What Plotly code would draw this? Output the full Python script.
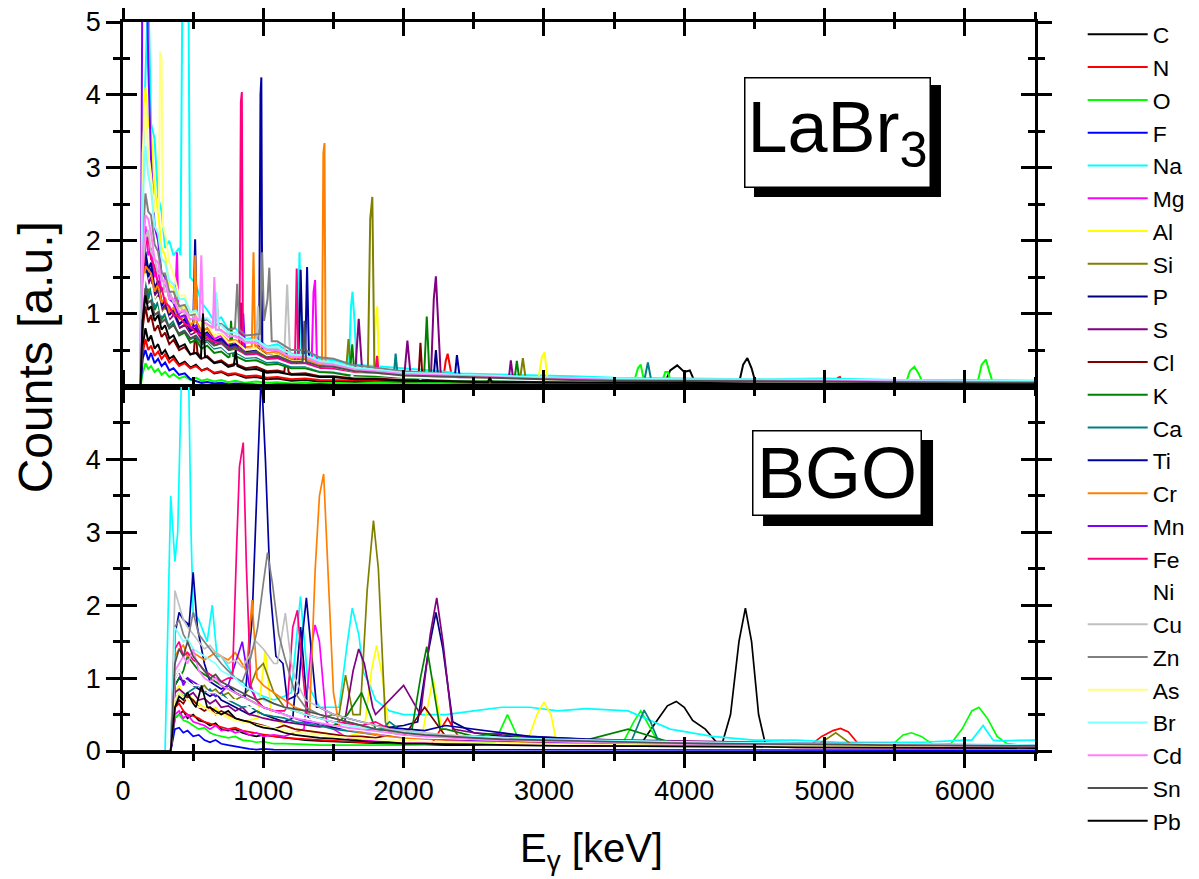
import plotly.graph_objects as go

ELEMENTS = ["C", "N", "O", "F", "Na", "Mg", "Al", "Si", "P", "S", "Cl", "K", "Ca",
            "Ti", "Cr", "Mn", "Fe", "Ni", "Cu", "Zn", "As", "Br", "Cd", "Sn", "Pb"]
COLORS = ["#000000", "#FF0000", "#00FF00", "#0000FF", "#00FFFF", "#FF00FF", "#FFFF00",
          "#808000", "#000080", "#800080", "#800000", "#008000", "#008080", "#0000A0",
          "#FF8000", "#8000FF", "#FF0080", "#FFFFFF", "#C0C0C0", "#808080", "#FFFF80",
          "#80FFFF", "#FF80FF", "#505050", "#000000"]

X_TICKS = [0, 1000, 2000, 3000, 4000, 5000, 6000]
Y_TICKS_TOP = [1, 2, 3, 4, 5]
Y_TICKS_BOT = [0, 1, 2, 3, 4]

# ---------------- LaBr3 energy grid (keV) and continuum counts ----------------
E_LA = [0, 125, 140, 160, 180, 200, 225, 250, 275, 300,
        330, 360, 400, 440, 480, 520, 560, 600, 650, 700,
        750, 800, 875, 950, 1025, 1100, 1200, 1300, 1400, 1500,
        1650, 1800, 2000, 2200, 2400, 2650, 2900, 3200, 3500, 4000,
        4500, 5000, 5500, 6000, 6500]

LA_C = [0, 0, 0.55, 0.80, 0.62, 0.70, 0.52, 0.58, 0.44, 0.50,
        0.38, 0.42, 0.30, 0.34, 0.26, 0.30, 0.22, 0.25, 0.18, 0.20,
        0.15, 0.17, 0.12, 0.13, 0.10, 0.11, 0.08, 0.09, 0.07, 0.07,
        0.06, 0.06, 0.05, 0.05, 0.04, 0.05, 0.04, 0.04, 0.03, 0.04,
        0.03, 0.03, 0.03, 0.03, 0.02]
LA_N = [0, 0, 0.45, 0.65, 0.50, 0.56, 0.42, 0.48, 0.38, 0.44,
        0.33, 0.38, 0.28, 0.32, 0.25, 0.28, 0.22, 0.24, 0.19, 0.21,
        0.17, 0.18, 0.14, 0.15, 0.12, 0.13, 0.10, 0.11, 0.09, 0.09,
        0.08, 0.08, 0.07, 0.08, 0.06, 0.06, 0.05, 0.06, 0.05, 0.05,
        0.04, 0.05, 0.04, 0.04, 0.03]
LA_O = [0, 0, 0.18, 0.32, 0.24, 0.28, 0.20, 0.24, 0.16, 0.20,
        0.13, 0.17, 0.11, 0.14, 0.09, 0.12, 0.08, 0.10, 0.07, 0.09,
        0.06, 0.08, 0.05, 0.07, 0.05, 0.06, 0.04, 0.05, 0.04, 0.05,
        0.04, 0.05, 0.04, 0.05, 0.05, 0.06, 0.05, 0.06, 0.05, 0.05,
        0.04, 0.05, 0.05, 0.05, 0.04]
LA_F = [0, 0, 0.38, 0.50, 0.36, 0.46, 0.32, 0.38, 0.28, 0.33,
        0.22, 0.25, 0.16, 0.18, 0.10, 0.08, 0.05, 0.06, 0.04, 0.05,
        0.03, 0.04, 0.03, 0.03, 0.02, 0.03, 0.02, 0.02, 0.03, 0.02,
        0.02, 0.02, 0.02, 0.02, 0.02, 0.02, 0.02, 0.01, 0.02, 0.02,
        0.01, 0.01, 0.01, 0.02, 0.01]
LA_NA = [0, 0, 3.00, 4.20, 5.50, 3.60, 3.40, 2.60, 2.40, 1.90,
         2.00, 1.80, 1.90, 1.60, 1.50, 1.40, 1.15, 1.05, 0.90, 0.95,
         0.78, 0.80, 0.65, 0.68, 0.55, 0.58, 0.45, 0.48, 0.38, 0.36,
         0.30, 0.28, 0.24, 0.22, 0.18, 0.17, 0.15, 0.14, 0.12, 0.11,
         0.10, 0.11, 0.09, 0.09, 0.08]
LA_MG = [0, 0, 1.60, 2.20, 1.80, 1.90, 1.50, 1.60, 1.30, 1.40,
         1.30, 1.15, 1.00, 1.05, 0.85, 0.90, 0.75, 0.80, 0.65, 0.70,
         0.58, 0.62, 0.50, 0.52, 0.42, 0.44, 0.35, 0.36, 0.28, 0.27,
         0.22, 0.20, 0.16, 0.15, 0.12, 0.12, 0.10, 0.10, 0.08, 0.08,
         0.07, 0.07, 0.06, 0.06, 0.05]
LA_AL = [0, 0, 3.50, 4.10, 3.60, 3.50, 2.70, 2.40, 1.90, 1.80,
         1.40, 1.35, 1.05, 1.10, 0.85, 0.90, 0.72, 0.76, 0.60, 0.64,
         0.50, 0.54, 0.42, 0.45, 0.36, 0.38, 0.30, 0.30, 0.24, 0.23,
         0.18, 0.17, 0.14, 0.13, 0.11, 0.10, 0.09, 0.09, 0.08, 0.07,
         0.06, 0.06, 0.05, 0.05, 0.05]
LA_SI = [0, 0, 1.10, 1.55, 1.30, 1.40, 1.15, 1.25, 1.00, 1.08,
         0.90, 0.96, 0.80, 0.85, 0.70, 0.75, 0.62, 0.68, 0.56, 0.60,
         0.50, 0.52, 0.44, 0.46, 0.38, 0.40, 0.32, 0.33, 0.26, 0.25,
         0.20, 0.18, 0.15, 0.14, 0.12, 0.11, 0.10, 0.09, 0.08, 0.07,
         0.06, 0.06, 0.05, 0.05, 0.05]
LA_P = [0, 0, 1.30, 1.85, 1.60, 1.70, 1.35, 1.45, 1.15, 1.20,
        1.00, 1.05, 0.85, 0.92, 0.76, 0.80, 0.66, 0.72, 0.60, 0.64,
        0.52, 0.56, 0.46, 0.48, 0.40, 0.42, 0.34, 0.35, 0.28, 0.26,
        0.21, 0.19, 0.16, 0.15, 0.13, 0.12, 0.10, 0.10, 0.08, 0.08,
        0.07, 0.07, 0.06, 0.06, 0.05]
LA_S = [0, 0, 1.20, 1.65, 1.40, 1.50, 1.25, 1.32, 1.05, 1.12,
        0.90, 0.98, 0.80, 0.84, 0.70, 0.74, 0.62, 0.66, 0.55, 0.58,
        0.48, 0.50, 0.42, 0.44, 0.36, 0.38, 0.30, 0.31, 0.25, 0.24,
        0.19, 0.18, 0.15, 0.14, 0.12, 0.11, 0.10, 0.09, 0.08, 0.07,
        0.06, 0.06, 0.05, 0.05, 0.05]
LA_CL = [0, 0, 0.80, 1.10, 0.88, 0.98, 0.76, 0.84, 0.68, 0.74,
         0.58, 0.64, 0.50, 0.54, 0.44, 0.48, 0.38, 0.42, 0.33, 0.36,
         0.29, 0.31, 0.25, 0.27, 0.21, 0.22, 0.17, 0.18, 0.14, 0.14,
         0.11, 0.11, 0.09, 0.09, 0.07, 0.07, 0.06, 0.06, 0.05, 0.05,
         0.04, 0.04, 0.04, 0.04, 0.03]
LA_K = [0, 0, 1.00, 1.60, 1.20, 1.35, 1.05, 1.15, 0.92, 0.98,
        0.80, 0.86, 0.70, 0.74, 0.60, 0.64, 0.52, 0.56, 0.46, 0.48,
        0.40, 0.42, 0.35, 0.36, 0.30, 0.31, 0.25, 0.25, 0.20, 0.19,
        0.15, 0.14, 0.12, 0.11, 0.09, 0.09, 0.08, 0.07, 0.06, 0.06,
        0.05, 0.05, 0.05, 0.04, 0.04]
LA_CA = [0, 0, 1.10, 1.45, 1.22, 1.32, 1.08, 1.16, 0.94, 1.00,
         0.84, 0.90, 0.74, 0.78, 0.65, 0.68, 0.58, 0.62, 0.52, 0.54,
         0.45, 0.47, 0.39, 0.40, 0.33, 0.34, 0.27, 0.28, 0.22, 0.21,
         0.17, 0.16, 0.13, 0.12, 0.11, 0.10, 0.09, 0.09, 0.08, 0.08,
         0.07, 0.07, 0.06, 0.06, 0.05]
LA_TI = [0, 0, 1.20, 1.75, 1.50, 1.62, 1.28, 1.38, 1.10, 1.18,
         0.98, 1.04, 0.86, 0.92, 0.78, 0.82, 0.70, 0.74, 0.62, 0.66,
         0.55, 0.58, 0.48, 0.50, 0.42, 0.44, 0.36, 0.36, 0.29, 0.28,
         0.22, 0.20, 0.16, 0.15, 0.13, 0.12, 0.10, 0.10, 0.08, 0.08,
         0.07, 0.07, 0.06, 0.06, 0.05]
LA_CR = [0, 0, 1.30, 1.65, 1.60, 1.55, 1.30, 1.40, 1.15, 1.22,
         1.02, 1.08, 0.92, 0.96, 0.84, 0.88, 0.76, 0.80, 0.70, 0.72,
         0.62, 0.64, 0.54, 0.56, 0.46, 0.48, 0.38, 0.38, 0.30, 0.29,
         0.23, 0.21, 0.17, 0.16, 0.13, 0.12, 0.10, 0.10, 0.08, 0.08,
         0.07, 0.07, 0.06, 0.06, 0.05]
LA_MN = [0, 0, 6.50, 7.00, 4.40, 3.10, 2.20, 2.00, 1.55, 1.50,
         1.20, 1.15, 0.95, 0.98, 0.80, 0.84, 0.68, 0.72, 0.60, 0.62,
         0.52, 0.55, 0.45, 0.46, 0.38, 0.40, 0.32, 0.32, 0.26, 0.25,
         0.20, 0.18, 0.15, 0.14, 0.12, 0.11, 0.10, 0.09, 0.08, 0.07,
         0.06, 0.06, 0.05, 0.05, 0.05]
LA_FE = [0, 0, 1.50, 1.95, 2.05, 1.75, 1.65, 1.40, 1.35, 1.15,
         1.10, 0.98, 0.96, 0.86, 0.82, 0.74, 0.70, 0.66, 0.62, 0.58,
         0.54, 0.50, 0.46, 0.44, 0.38, 0.38, 0.31, 0.31, 0.25, 0.24,
         0.19, 0.18, 0.15, 0.14, 0.12, 0.11, 0.10, 0.09, 0.08, 0.08,
         0.07, 0.07, 0.06, 0.06, 0.05]
LA_NI = [0, 0, 1.20, 1.55, 1.35, 1.40, 1.15, 1.22, 0.98, 1.05,
         0.88, 0.94, 0.76, 0.80, 0.68, 0.72, 0.60, 0.64, 0.54, 0.56,
         0.47, 0.49, 0.41, 0.42, 0.35, 0.36, 0.29, 0.29, 0.23, 0.22,
         0.17, 0.16, 0.13, 0.12, 0.10, 0.10, 0.09, 0.08, 0.07, 0.07,
         0.06, 0.06, 0.05, 0.05, 0.05]
LA_CU = [0, 0, 1.60, 2.05, 2.15, 1.85, 1.75, 1.55, 1.55, 1.30,
         1.30, 1.15, 1.12, 1.00, 1.00, 0.92, 0.90, 0.84, 0.82, 0.76,
         0.72, 0.68, 0.62, 0.60, 0.52, 0.52, 0.42, 0.42, 0.34, 0.32,
         0.25, 0.22, 0.18, 0.17, 0.14, 0.13, 0.11, 0.11, 0.09, 0.09,
         0.08, 0.08, 0.07, 0.07, 0.06]
LA_ZN = [0, 0, 2.00, 2.65, 2.40, 2.35, 1.95, 1.85, 1.55, 1.55,
         1.30, 1.30, 1.10, 1.12, 0.98, 1.00, 0.90, 0.92, 0.84, 0.86,
         0.78, 0.80, 0.70, 0.72, 0.62, 0.62, 0.50, 0.50, 0.40, 0.38,
         0.29, 0.26, 0.21, 0.19, 0.16, 0.15, 0.12, 0.12, 0.10, 0.10,
         0.09, 0.08, 0.08, 0.07, 0.07]
LA_AS = [0, 0, 3.20, 3.90, 3.20, 2.90, 2.40, 2.40, 2.50, 2.10,
         1.70, 1.55, 1.25, 1.25, 1.00, 1.02, 0.84, 0.86, 0.70, 0.72,
         0.60, 0.62, 0.50, 0.52, 0.42, 0.44, 0.35, 0.35, 0.28, 0.27,
         0.21, 0.19, 0.15, 0.14, 0.12, 0.11, 0.10, 0.09, 0.08, 0.08,
         0.07, 0.07, 0.06, 0.06, 0.05]
LA_BR = [0, 0, 2.50, 3.30, 2.90, 2.70, 2.20, 2.10, 1.75, 1.70,
         1.45, 1.40, 1.20, 1.20, 1.02, 1.04, 0.92, 0.94, 0.84, 0.84,
         0.74, 0.74, 0.64, 0.64, 0.54, 0.54, 0.44, 0.43, 0.35, 0.33,
         0.26, 0.23, 0.19, 0.18, 0.16, 0.15, 0.13, 0.12, 0.11, 0.10,
         0.10, 0.09, 0.09, 0.08, 0.08]
LA_CD = [0, 0, 1.80, 2.35, 2.30, 2.10, 1.75, 1.70, 1.45, 1.45,
         1.20, 1.20, 1.02, 1.05, 0.92, 0.95, 0.84, 0.86, 0.76, 0.78,
         0.68, 0.70, 0.60, 0.60, 0.50, 0.50, 0.40, 0.40, 0.32, 0.30,
         0.23, 0.21, 0.17, 0.16, 0.14, 0.13, 0.11, 0.11, 0.09, 0.09,
         0.08, 0.08, 0.07, 0.07, 0.06]
LA_SN = [0, 0, 0.90, 1.35, 1.15, 1.18, 0.98, 1.02, 0.88, 0.92,
         0.80, 0.84, 0.72, 0.76, 0.66, 0.70, 0.60, 0.64, 0.56, 0.60,
         0.52, 0.54, 0.46, 0.48, 0.40, 0.42, 0.34, 0.34, 0.28, 0.27,
         0.21, 0.19, 0.15, 0.14, 0.12, 0.11, 0.10, 0.09, 0.08, 0.08,
         0.07, 0.07, 0.06, 0.06, 0.05]
LA_PB = [0, 0, 0.90, 1.25, 1.05, 1.10, 0.90, 0.98, 0.78, 0.84,
         0.66, 0.70, 0.54, 0.58, 0.44, 0.46, 0.36, 0.40, 0.32, 0.34,
         0.27, 0.29, 0.23, 0.24, 0.19, 0.20, 0.16, 0.16, 0.13, 0.13,
         0.10, 0.10, 0.08, 0.08, 0.07, 0.06, 0.06, 0.06, 0.05, 0.05,
         0.04, 0.04, 0.04, 0.04, 0.03]

# LaBr3 photopeaks: lists of (energy keV, counts) points
LA_C_PK = [[(3860, 0.04), (3900, 0.22), (3950, 0.29), (4000, 0.20), (4040, 0.22), (4080, 0.04)],
           [(4390, 0.04), (4420, 0.30), (4450, 0.39), (4480, 0.25), (4510, 0.04)]]
LA_N_PK = [[(2280, 0.07), (2300, 0.35), (2314, 0.45), (2330, 0.30), (2350, 0.07)],
           [(5070, 0.04), (5095, 0.12), (5110, 0.13), (5135, 0.04)]]
LA_O_PK = [[(3640, 0.05), (3670, 0.25), (3690, 0.30), (3715, 0.06)],
           [(3840, 0.05), (3865, 0.20), (3885, 0.20), (3905, 0.05)],
           [(5580, 0.05), (5610, 0.22), (5640, 0.27), (5670, 0.18), (5700, 0.05)],
           [(6090, 0.05), (6120, 0.30), (6150, 0.37), (6175, 0.20), (6200, 0.05)]]
LA_F_PK = []
LA_NA_PK = [[(410, 1.8), (425, 6.0), (445, 7.0), (465, 6.0), (478, 1.5)],
            [(1245, 0.45), (1258, 1.84), (1272, 0.45)],
            [(1610, 0.3), (1625, 1.1), (1636, 1.3), (1650, 0.9), (1665, 0.3)]]
LA_MG_PK = [[(370, 1.1), (385, 1.84), (395, 0.95)],
            [(1345, 0.36), (1358, 1.3), (1369, 1.46), (1382, 0.34)]]
LA_AL_PK = [[(1785, 0.17), (1800, 0.9), (1812, 1.1), (1825, 0.17)],
            [(2960, 0.09), (2985, 0.4), (3005, 0.47), (3025, 0.09)]]
LA_SI_PK = [[(960, 0.45), (978, 1.22), (995, 0.42)],
            [(1590, 0.22), (1607, 0.65), (1625, 0.21)],
            [(1745, 0.19), (1762, 2.3), (1777, 2.6), (1792, 0.18)],
            [(2830, 0.1), (2850, 0.39), (2870, 0.1)]]
LA_P_PK = [[(1250, 0.35), (1266, 1.6), (1282, 0.35)],
           [(2215, 0.15), (2230, 0.5), (2245, 0.15)]]
LA_S_PK = [[(825, 0.45), (841, 1.15), (857, 0.44)],
           [(1655, 0.19), (1680, 0.93), (1705, 0.19)],
           [(2005, 0.15), (2027, 0.63), (2050, 0.15)],
           [(2195, 0.14), (2215, 1.2), (2230, 1.51), (2245, 1.0), (2265, 0.14)],
           [(2750, 0.11), (2764, 0.36), (2780, 0.11)]]
LA_CL_PK = [[(505, 0.46), (517, 0.8), (530, 0.47)],
            [(1150, 0.2), (1165, 0.5), (1180, 0.2)],
            [(2105, 0.09), (2120, 0.6), (2135, 0.09)]]
LA_K_PK = [[(760, 0.41), (770, 0.9), (785, 0.42)],
           [(1615, 0.15), (1634, 0.58), (1650, 0.15)],
           [(2145, 0.11), (2165, 0.96), (2185, 0.11)],
           [(2790, 0.09), (2807, 0.35), (2825, 0.09)]]
LA_CA_PK = [[(1930, 0.14), (1943, 0.45), (1958, 0.14)],
            [(3715, 0.08), (3741, 0.33), (3765, 0.08)]]
LA_TI_PK = [[(500, 0.8), (514, 2.02), (528, 0.8)],
            [(970, 0.5), (980, 4.0), (986, 4.24), (993, 0.5)],
            [(1298, 0.36), (1312, 1.64), (1326, 0.34)],
            [(2365, 0.13), (2380, 0.43), (2395, 0.13)]]
LA_CR_PK = [[(503, 0.88), (515, 1.8), (527, 0.87)],
            [(918, 0.55), (930, 1.84), (942, 0.55)],
            [(1418, 0.31), (1428, 3.2), (1436, 3.34), (1444, 0.3)]]
LA_MN_PK = [[(845, 0.5), (857, 1.0), (870, 0.48)]]
LA_FE_PK = [[(830, 0.47), (840, 3.9), (847, 4.04), (855, 0.46)],
            [(1225, 0.31), (1238, 1.62), (1250, 0.31)],
            [(1797, 0.18), (1811, 0.42), (1822, 0.18)]]
LA_NI_PK = []
LA_CU_PK = [[(655, 0.8), (670, 1.2), (685, 0.78)],
            [(948, 0.6), (962, 1.1), (975, 0.58)],
            [(1150, 0.47), (1170, 1.4), (1190, 0.44)]]
LA_ZN_PK = [[(798, 0.8), (814, 1.41), (828, 0.78)],
            [(975, 0.72), (992, 1.84), (1005, 0.9), (1030, 1.2), (1043, 1.63), (1060, 0.62)]]
LA_AS_PK = [[(255, 2.4), (265, 4.6), (275, 4.5), (285, 2.2)]]
LA_BR_PK = [[(652, 0.84), (664, 1.3), (678, 0.84)]]
LA_CD_PK = [[(545, 0.9), (558, 1.8), (572, 0.88)],
            [(640, 0.8), (651, 1.5), (662, 0.78)]]
LA_SN_PK = [[(1280, 0.34), (1293, 0.9), (1305, 0.34)]]
LA_PB_PK = [[(555, 0.38), (570, 1.0), (585, 0.4)],
            [(790, 0.29), (803, 0.5), (816, 0.28)],
            [(2600, 0.06), (2614, 0.12), (2630, 0.06)]]

# ---------------- BGO energy grid (keV) and continuum counts ----------------
E_BG = [0, 300, 340, 370, 400, 430, 460, 500, 540, 580,
        620, 660, 700, 750, 800, 850, 900, 950, 1000, 1075,
        1150, 1225, 1300, 1400, 1500, 1600, 1700, 1800, 1900, 2000,
        2150, 2300, 2500, 2700, 2900, 3100, 3300, 3600, 3900, 4200,
        4500, 4800, 5100, 5400, 5700, 6000, 6250, 6500]

BG_C = [0, 0, 0, 0.45, 0.50, 0.55, 0.45, 0.50, 0.42, 0.40,
        0.35, 0.38, 0.30, 0.28, 0.30, 0.25, 0.22, 0.20, 0.22, 0.20,
        0.18, 0.16, 0.15, 0.14, 0.13, 0.12, 0.12, 0.10, 0.10, 0.09,
        0.09, 0.08, 0.08, 0.10, 0.08, 0.08, 0.09, 0.10, 0.20, 0.12,
        0.15, 0.08, 0.07, 0.06, 0.06, 0.06, 0.05, 0.05]
BG_N = [0, 0, 0, 0.60, 0.65, 0.55, 0.50, 0.48, 0.45, 0.40,
        0.38, 0.36, 0.33, 0.30, 0.32, 0.28, 0.26, 0.25, 0.22, 0.20,
        0.18, 0.17, 0.16, 0.15, 0.14, 0.13, 0.12, 0.12, 0.11, 0.10,
        0.10, 0.10, 0.09, 0.09, 0.08, 0.08, 0.07, 0.07, 0.07, 0.06,
        0.06, 0.08, 0.10, 0.06, 0.05, 0.05, 0.05, 0.05]
BG_O = [0, 0, 0, 0.45, 0.50, 0.42, 0.40, 0.35, 0.30, 0.32,
        0.25, 0.22, 0.20, 0.18, 0.20, 0.15, 0.14, 0.12, 0.13, 0.10,
        0.10, 0.09, 0.09, 0.08, 0.08, 0.07, 0.07, 0.08, 0.07, 0.08,
        0.09, 0.10, 0.10, 0.12, 0.10, 0.09, 0.09, 0.10, 0.08, 0.07,
        0.07, 0.06, 0.07, 0.08, 0.10, 0.12, 0.08, 0.06]
BG_F = [0, 0, 0, 0.30, 0.32, 0.25, 0.28, 0.20, 0.22, 0.15,
        0.12, 0.15, 0.10, 0.08, 0.06, 0.05, 0.03, 0.02, 0.03, 0.02,
        0.02, 0.01, 0.01, 0.01, 0.01, 0.01, 0.01, 0.01, 0.01, 0.01,
        0.01, 0.01, 0.01, 0.01, 0.01, 0.01, 0.01, 0.01, 0.01, 0.01,
        0.01, 0.01, 0.01, 0.01, 0.01, 0.01, 0.01, 0.01]
BG_NA = [0, 0, 3.50, 2.60, 5.50, 6.50, 6.00, 1.90, 1.80, 1.60,
         1.80, 1.50, 1.30, 1.15, 1.00, 0.95, 0.85, 0.80, 0.75, 0.70,
         0.75, 0.90, 0.80, 0.60, 0.60, 1.20, 1.30, 0.70, 0.55, 0.50,
         0.50, 0.50, 0.55, 0.60, 0.60, 0.55, 0.58, 0.55, 0.30, 0.20,
         0.15, 0.15, 0.12, 0.12, 0.12, 0.15, 0.14, 0.15]
BG_MG = [0, 0, 0, 0.50, 0.55, 0.45, 0.50, 0.40, 0.38, 0.35,
         0.30, 0.35, 0.28, 0.30, 0.25, 0.28, 0.22, 0.25, 0.20, 0.22,
         0.20, 0.25, 0.30, 0.40, 0.30, 0.18, 0.15, 0.13, 0.12, 0.11,
         0.10, 0.10, 0.09, 0.09, 0.08, 0.08, 0.07, 0.07, 0.06, 0.06,
         0.06, 0.05, 0.05, 0.05, 0.05, 0.04, 0.04, 0.04]
BG_AL = [0, 0, 0, 0.80, 0.90, 0.75, 0.80, 0.70, 0.65, 0.60,
         0.55, 0.60, 0.50, 0.48, 0.45, 0.40, 0.42, 0.45, 0.50, 0.45,
         0.35, 0.30, 0.28, 0.25, 0.22, 0.20, 0.25, 0.30, 0.20, 0.18,
         0.16, 0.14, 0.13, 0.12, 0.12, 0.12, 0.10, 0.09, 0.08, 0.08,
         0.07, 0.07, 0.06, 0.06, 0.06, 0.05, 0.05, 0.05]
BG_SI = [0, 0, 0, 1.00, 1.10, 1.00, 0.95, 0.90, 0.85, 0.90,
         0.80, 0.85, 0.75, 0.80, 0.70, 0.75, 0.85, 1.10, 1.20, 0.80,
         0.60, 0.55, 0.50, 0.45, 0.50, 0.80, 0.60, 0.30, 0.25, 0.22,
         0.20, 0.18, 0.16, 0.15, 0.14, 0.13, 0.12, 0.11, 0.10, 0.09,
         0.09, 0.08, 0.08, 0.08, 0.07, 0.07, 0.06, 0.06]
BG_P = [0, 0, 0, 0.90, 1.00, 0.95, 1.00, 0.90, 0.85, 0.80,
        0.75, 0.80, 0.70, 0.65, 0.60, 0.55, 0.50, 0.55, 0.50, 0.45,
        0.40, 0.50, 0.40, 0.35, 0.32, 0.30, 0.28, 0.30, 0.32, 0.35,
        0.40, 0.35, 0.25, 0.20, 0.18, 0.16, 0.15, 0.13, 0.12, 0.10,
        0.10, 0.09, 0.08, 0.08, 0.07, 0.07, 0.06, 0.06]
BG_S = [0, 0, 0, 0.80, 0.85, 0.80, 0.75, 0.80, 0.70, 0.72,
        0.65, 0.70, 0.60, 0.62, 0.55, 0.60, 0.50, 0.48, 0.45, 0.42,
        0.40, 0.38, 0.35, 0.33, 0.35, 0.50, 0.90, 0.50, 0.70, 0.90,
        0.40, 0.30, 0.25, 0.22, 0.20, 0.18, 0.16, 0.15, 0.14, 0.12,
        0.12, 0.11, 0.10, 0.10, 0.09, 0.09, 0.08, 0.08]
BG_CL = [0, 0, 0, 0.60, 0.70, 0.65, 0.75, 0.70, 0.60, 0.55,
         0.60, 0.50, 0.55, 0.50, 0.45, 0.42, 0.40, 0.38, 0.35, 0.30,
         0.35, 0.30, 0.28, 0.25, 0.22, 0.20, 0.20, 0.18, 0.22, 0.20,
         0.60, 0.20, 0.15, 0.14, 0.13, 0.12, 0.10, 0.10, 0.09, 0.09,
         0.08, 0.08, 0.07, 0.07, 0.07, 0.06, 0.06, 0.06]
BG_K = [0, 0, 0, 0.90, 1.00, 1.10, 1.30, 1.20, 1.10, 1.05,
        1.00, 0.95, 0.90, 0.85, 0.80, 0.75, 0.70, 0.65, 0.60, 0.55,
        0.50, 0.45, 0.42, 0.38, 0.35, 0.50, 0.80, 0.30, 0.30, 0.28,
        0.26, 0.30, 0.20, 0.25, 0.15, 0.14, 0.15, 0.30, 0.12, 0.10,
        0.09, 0.09, 0.08, 0.08, 0.08, 0.07, 0.07, 0.07]
BG_CA = [0, 0, 0, 0.70, 0.80, 0.75, 0.80, 0.85, 0.90, 0.80,
         0.85, 0.75, 0.80, 0.70, 0.65, 0.60, 0.62, 0.55, 0.50, 0.48,
         0.45, 0.40, 0.38, 0.35, 0.30, 0.28, 0.25, 0.22, 0.40, 0.25,
         0.22, 0.20, 0.18, 0.16, 0.15, 0.14, 0.13, 0.12, 0.11, 0.10,
         0.09, 0.09, 0.08, 0.08, 0.08, 0.07, 0.07, 0.07]
BG_TI = [0, 0, 0, 1.60, 1.90, 1.80, 1.75, 2.20, 1.60, 1.20,
         0.95, 0.90, 0.85, 0.90, 0.80, 0.75, 0.70, 0.80, 1.00, 0.90,
         0.70, 0.75, 0.80, 0.60, 0.50, 0.45, 0.40, 0.35, 0.32, 0.30,
         0.28, 0.35, 0.30, 0.25, 0.20, 0.18, 0.16, 0.14, 0.12, 0.11,
         0.10, 0.09, 0.09, 0.08, 0.08, 0.07, 0.07, 0.07]
BG_CR = [0, 0, 0, 1.30, 1.40, 1.45, 1.30, 1.35, 1.30, 1.25,
         1.30, 1.35, 1.30, 1.25, 1.35, 1.20, 1.10, 1.00, 0.90, 0.80,
         0.70, 0.60, 0.55, 0.50, 0.40, 0.30, 0.25, 0.22, 0.20, 0.18,
         0.16, 0.15, 0.14, 0.13, 0.12, 0.12, 0.11, 0.10, 0.10, 0.09,
         0.09, 0.08, 0.08, 0.08, 0.07, 0.07, 0.07, 0.06]
BG_MN = [0, 0, 0, 1.00, 1.10, 0.90, 1.00, 0.95, 0.90, 0.85,
         0.80, 0.75, 0.80, 0.90, 1.20, 1.50, 0.90, 0.70, 0.60, 0.55,
         0.50, 0.45, 0.40, 0.38, 0.35, 0.30, 0.28, 0.25, 0.22, 0.20,
         0.18, 0.16, 0.15, 0.14, 0.13, 0.12, 0.11, 0.10, 0.10, 0.09,
         0.09, 0.08, 0.08, 0.07, 0.07, 0.07, 0.06, 0.06]
BG_FE = [0, 0, 0, 1.40, 1.50, 1.30, 1.35, 1.25, 1.20, 1.10,
         1.05, 1.00, 0.95, 1.00, 1.20, 1.50, 0.90, 0.70, 0.60, 0.55,
         0.55, 0.50, 0.50, 0.45, 0.40, 0.38, 0.35, 0.40, 0.30, 0.25,
         0.22, 0.20, 0.18, 0.16, 0.15, 0.14, 0.13, 0.12, 0.11, 0.10,
         0.10, 0.09, 0.09, 0.08, 0.08, 0.08, 0.07, 0.07]
BG_NI = [0, 0, 0, 1.00, 1.10, 1.00, 0.95, 0.90, 0.90, 0.85,
         0.80, 0.80, 0.75, 0.70, 0.70, 0.65, 0.60, 0.60, 0.55, 0.50,
         0.50, 0.45, 0.45, 0.40, 0.35, 0.30, 0.28, 0.25, 0.22, 0.20,
         0.18, 0.17, 0.16, 0.15, 0.14, 0.13, 0.12, 0.11, 0.10, 0.10,
         0.09, 0.09, 0.08, 0.08, 0.08, 0.07, 0.07, 0.07]
BG_CU = [0, 0, 0, 2.20, 2.00, 1.80, 1.70, 1.60, 1.50, 1.40,
         1.45, 1.35, 1.30, 1.20, 1.25, 1.15, 1.30, 1.50, 1.40, 1.20,
         1.50, 1.00, 0.70, 0.60, 0.50, 0.45, 0.40, 0.35, 0.30, 0.28,
         0.25, 0.22, 0.20, 0.18, 0.16, 0.15, 0.14, 0.13, 0.12, 0.11,
         0.10, 0.10, 0.09, 0.09, 0.08, 0.08, 0.08, 0.07]
BG_ZN = [0, 0, 0, 1.70, 1.80, 1.60, 1.50, 1.90, 1.60, 1.50,
         1.40, 1.30, 1.20, 1.10, 1.00, 0.95, 1.20, 1.60, 2.30, 2.40,
         1.30, 0.80, 0.60, 0.50, 0.45, 0.40, 0.35, 0.30, 0.28, 0.25,
         0.22, 0.20, 0.18, 0.16, 0.15, 0.14, 0.13, 0.12, 0.11, 0.10,
         0.10, 0.09, 0.09, 0.08, 0.08, 0.08, 0.07, 0.07]
BG_AS = [0, 0, 0, 0.70, 0.80, 0.75, 0.70, 0.65, 0.60, 0.60,
         0.55, 0.50, 0.50, 0.45, 0.42, 0.40, 0.38, 0.35, 0.33, 0.30,
         0.28, 0.26, 0.24, 0.22, 0.20, 0.18, 0.17, 0.16, 0.15, 0.14,
         0.13, 0.12, 0.11, 0.10, 0.10, 0.09, 0.09, 0.08, 0.08, 0.07,
         0.07, 0.07, 0.06, 0.06, 0.06, 0.05, 0.05, 0.05]
BG_BR = [0, 0, 0, 1.70, 1.60, 1.50, 1.55, 1.40, 1.35, 1.30,
         1.25, 1.20, 1.10, 1.05, 1.00, 0.90, 0.85, 0.80, 0.70, 0.65,
         0.60, 0.55, 0.50, 0.45, 0.40, 0.35, 0.32, 0.30, 0.28, 0.25,
         0.22, 0.20, 0.20, 0.18, 0.17, 0.16, 0.15, 0.14, 0.13, 0.12,
         0.11, 0.11, 0.10, 0.10, 0.09, 0.09, 0.09, 0.08]
BG_CD = [0, 0, 0, 1.10, 1.20, 1.30, 1.20, 1.40, 1.10, 1.00,
         0.95, 1.00, 0.90, 0.85, 0.80, 0.75, 0.70, 0.65, 0.60, 0.55,
         0.50, 0.45, 0.42, 0.38, 0.35, 0.32, 0.30, 0.27, 0.25, 0.22,
         0.20, 0.18, 0.16, 0.15, 0.14, 0.13, 0.12, 0.11, 0.10, 0.10,
         0.09, 0.09, 0.08, 0.08, 0.08, 0.07, 0.07, 0.07]
BG_SN = [0, 0, 0, 1.20, 1.40, 1.30, 1.50, 1.30, 1.20, 1.10,
         1.00, 1.05, 0.95, 0.90, 0.85, 0.80, 0.75, 0.70, 0.72, 0.65,
         0.60, 0.58, 0.55, 0.50, 0.45, 0.40, 0.35, 0.30, 0.28, 0.25,
         0.22, 0.20, 0.18, 0.16, 0.15, 0.14, 0.13, 0.12, 0.11, 0.10,
         0.10, 0.09, 0.09, 0.08, 0.08, 0.08, 0.07, 0.07]
BG_PB = [0, 0, 0, 0.60, 0.75, 0.70, 0.80, 0.65, 0.80, 0.75,
         0.60, 0.55, 0.50, 0.55, 0.45, 0.42, 0.40, 0.35, 0.32, 0.30,
         0.25, 0.22, 0.20, 0.18, 0.17, 0.15, 0.14, 0.12, 0.12, 0.10,
         0.10, 0.09, 0.09, 0.08, 0.08, 0.07, 0.07, 0.07, 0.06, 0.06,
         0.06, 0.05, 0.05, 0.05, 0.05, 0.05, 0.04, 0.04]

# BGO photopeaks
BG_C_PK = [[(3700, 0.12), (3800, 0.4), (3880, 0.62), (3943, 0.68), (4000, 0.6), (4060, 0.42), (4150, 0.3), (4230, 0.12)],
           [(4270, 0.1), (4330, 0.5), (4390, 1.5), (4436, 1.96), (4480, 1.5), (4530, 0.5), (4580, 0.08)]]
BG_N_PK = [[(2200, 0.1), (2313, 0.45), (2420, 0.1)],
           [(4900, 0.08), (4980, 0.2), (5060, 0.28), (5114, 0.31), (5170, 0.26), (5240, 0.1)]]
BG_O_PK = [[(2650, 0.12), (2740, 0.5), (2830, 0.12)],
           [(3560, 0.1), (3640, 0.4), (3690, 0.55), (3750, 0.35), (3820, 0.1)],
           [(5480, 0.08), (5560, 0.22), (5620, 0.25), (5690, 0.2), (5780, 0.08)],
           [(5900, 0.1), (5980, 0.3), (6050, 0.55), (6100, 0.6), (6160, 0.45), (6230, 0.2), (6300, 0.1)]]
BG_F_PK = []
BG_NA_PK = [[(390, 3.0), (415, 5.5), (440, 7.0), (465, 5.5), (485, 3.0)],
            [(600, 1.5), (636, 2.0), (670, 1.3)],
            [(1200, 0.8), (1265, 2.12), (1320, 0.9)],
            [(1540, 0.6), (1600, 1.5), (1634, 1.96), (1680, 1.6), (1714, 1.08), (1760, 0.9), (1790, 0.75)],
            [(6050, 0.15), (6130, 0.35), (6200, 0.15)]]
BG_MG_PK = [[(1290, 0.3), (1340, 1.4), (1369, 1.73), (1400, 1.5), (1450, 0.4)]]
BG_AL_PK = [[(960, 0.45), (1014, 1.38), (1060, 0.45)],
            [(1720, 0.3), (1770, 1.1), (1807, 1.45), (1850, 1.0), (1890, 0.3)],
            [(2130, 0.2), (2210, 1.0), (2280, 0.2)],
            [(2880, 0.12), (2950, 0.5), (3000, 0.67), (3050, 0.5), (3090, 0.12)]]
BG_SI_PK = [[(1540, 0.5), (1586, 1.04), (1640, 0.5)],
            [(1690, 0.5), (1740, 2.2), (1785, 3.16), (1820, 2.5), (1870, 0.4)],
            [(4950, 0.08), (5080, 0.25), (5200, 0.08)]]
BG_P_PK = [[(1210, 0.45), (1266, 1.7), (1320, 0.45)],
           [(2100, 0.4), (2180, 1.4), (2230, 1.9), (2280, 1.4), (2350, 0.4)]]
BG_S_PK = [[(1580, 0.4), (1640, 1.1), (1680, 1.4), (1720, 1.2), (1780, 0.6)],
           [(2120, 0.5), (2190, 1.6), (2236, 2.1), (2280, 1.5), (2350, 0.3)]]
BG_CL_PK = []
BG_K_PK = [[(2060, 0.3), (2120, 1.0), (2165, 1.43), (2210, 0.9), (2260, 0.3)]]
BG_CA_PK = [[(3620, 0.12), (3680, 0.4), (3714, 0.56), (3760, 0.4), (3820, 0.12)]]
BG_TI_PK = [[(470, 1.7), (500, 2.45), (530, 1.7)],
            [(870, 0.75), (920, 1.8), (960, 3.8), (986, 5.2), (1015, 4.0), (1050, 2.2), (1090, 1.3), (1140, 1.2), (1170, 0.7)],
            [(1250, 0.8), (1280, 1.6), (1307, 2.1), (1340, 1.4), (1380, 0.6)]]
BG_CR_PK = [[(880, 1.1), (920, 2.07), (955, 1.0)],
            [(1330, 0.5), (1370, 2.5), (1400, 3.5), (1430, 3.8), (1460, 2.5), (1500, 0.8), (1540, 0.35)]]
BG_MN_PK = []
BG_FE_PK = [[(780, 1.0), (810, 2.8), (830, 3.9), (857, 4.23), (880, 2.5), (910, 0.9)],
            [(1170, 0.6), (1210, 1.7), (1243, 1.93), (1275, 1.2), (1310, 0.5)]]
BG_NI_PK = []
BG_CU_PK = [[(1100, 1.2), (1157, 1.89), (1200, 1.2)]]
BG_ZN_PK = [[(960, 1.7), (1000, 2.3), (1030, 2.72), (1065, 2.3), (1110, 1.6)]]
BG_AS_PK = []
BG_BR_PK = []
BG_CD_PK = []
BG_SN_PK = []
BG_PB_PK = [[(520, 0.6), (560, 0.9), (600, 0.6)]]

LA_VALUES = [LA_C, LA_N, LA_O, LA_F, LA_NA, LA_MG, LA_AL, LA_SI, LA_P, LA_S, LA_CL, LA_K, LA_CA,
             LA_TI, LA_CR, LA_MN, LA_FE, LA_NI, LA_CU, LA_ZN, LA_AS, LA_BR, LA_CD, LA_SN, LA_PB]
LA_PEAKS = [LA_C_PK, LA_N_PK, LA_O_PK, LA_F_PK, LA_NA_PK, LA_MG_PK, LA_AL_PK, LA_SI_PK, LA_P_PK,
            LA_S_PK, LA_CL_PK, LA_K_PK, LA_CA_PK, LA_TI_PK, LA_CR_PK, LA_MN_PK, LA_FE_PK, LA_NI_PK,
            LA_CU_PK, LA_ZN_PK, LA_AS_PK, LA_BR_PK, LA_CD_PK, LA_SN_PK, LA_PB_PK]
BG_VALUES = [BG_C, BG_N, BG_O, BG_F, BG_NA, BG_MG, BG_AL, BG_SI, BG_P, BG_S, BG_CL, BG_K, BG_CA,
             BG_TI, BG_CR, BG_MN, BG_FE, BG_NI, BG_CU, BG_ZN, BG_AS, BG_BR, BG_CD, BG_SN, BG_PB]
BG_PEAKS = [BG_C_PK, BG_N_PK, BG_O_PK, BG_F_PK, BG_NA_PK, BG_MG_PK, BG_AL_PK, BG_SI_PK, BG_P_PK,
            BG_S_PK, BG_CL_PK, BG_K_PK, BG_CA_PK, BG_TI_PK, BG_CR_PK, BG_MN_PK, BG_FE_PK, BG_NI_PK,
            BG_CU_PK, BG_ZN_PK, BG_AS_PK, BG_BR_PK, BG_CD_PK, BG_SN_PK, BG_PB_PK]


def build(grid, vals, peaks, name):
    if len(grid) != len(vals):
        raise ValueError(f"{name}: {len(vals)} values for {len(grid)} energies")
    pts = list(zip(grid, vals))
    for pk in peaks:
        lo, hi = pk[0][0], pk[-1][0]
        pts = [p for p in pts if not (lo < p[0] < hi)]
        pts += list(pk)
    pts.sort()
    return [p[0] for p in pts], [p[1] for p in pts]


fig = go.Figure()
for i, el in enumerate(ELEMENTS):
    x, y = build(E_LA, LA_VALUES[i], LA_PEAKS[i], "LaBr " + el)
    fig.add_trace(go.Scatter(x=x, y=y, mode="lines", name=el, legendgroup=el,
                             line=dict(color=COLORS[i], width=2.0), xaxis="x", yaxis="y"))
for i, el in enumerate(ELEMENTS):
    x, y = build(E_BG, BG_VALUES[i], BG_PEAKS[i], "BGO " + el)
    fig.add_trace(go.Scatter(x=x, y=y, mode="lines", name=el, legendgroup=el, showlegend=False,
                             line=dict(color=COLORS[i], width=1.7), xaxis="x2", yaxis="y2"))
# empty traces so the overlay axes (inner tick marks) are drawn
fig.add_trace(go.Scatter(x=[None], y=[None], xaxis="x3", yaxis="y3", showlegend=False, hoverinfo="skip"))
fig.add_trace(go.Scatter(x=[None], y=[None], xaxis="x4", yaxis="y4", showlegend=False, hoverinfo="skip"))

FONT = "Arial, Liberation Sans, sans-serif"
TICKFONT = dict(family=FONT, size=27, color="black")


def axis(ticks, **kw):
    d = dict(showline=True, linecolor="black", linewidth=2.5, mirror="allticks",
             ticks=ticks, ticklen=14, tickwidth=2.5, tickcolor="black",
             showgrid=False, zeroline=False, tickfont=TICKFONT, ticklabeloverflow="allow")
    d.update(kw)
    return d


def xminor(t):
    return dict(ticks=t, ticklen=7, tickwidth=2.5, tickcolor="black", dtick=500, tick0=0, showgrid=False)


def yminor(t):
    return dict(ticks=t, ticklen=7, tickwidth=2.5, tickcolor="black", tickmode="array",
                tickvals=[0.5, 1.5, 2.5, 3.5, 4.5], showgrid=False)


# the page body adds an 8 px offset, so the figure is 8 px smaller on each axis
fig.update_layout(
    width=1191, height=871, autosize=False,
    paper_bgcolor="white", plot_bgcolor="white",
    margin=dict(l=115, r=164, t=14, b=128, autoexpand=False),
    font=dict(family=FONT, color="black"),
    showlegend=True,
    xaxis=axis("outside", domain=[0, 1], anchor="y", range=[0, 6500], tickmode="array",
               tickvals=X_TICKS, showticklabels=False, minor=xminor("outside")),
    yaxis=axis("outside", domain=[0.5, 1], anchor="x", range=[0, 5], tickmode="array",
               tickvals=Y_TICKS_TOP, minor=yminor("outside")),
    xaxis2=axis("outside", domain=[0, 1], anchor="y2", range=[0, 6500], tickmode="array",
                tickvals=X_TICKS, minor=xminor("outside")),
    yaxis2=axis("outside", domain=[0, 0.5], anchor="x2", range=[0, 5], tickmode="array",
                tickvals=Y_TICKS_BOT, minor=yminor("outside")),
    xaxis3=axis("inside", overlaying="x", anchor="y3", range=[0, 6500], tickmode="array",
                tickvals=X_TICKS, showticklabels=False, minor=xminor("inside")),
    yaxis3=axis("inside", overlaying="y", anchor="x3", range=[0, 5], tickmode="array",
                tickvals=Y_TICKS_TOP, showticklabels=False, minor=yminor("inside")),
    xaxis4=axis("inside", overlaying="x2", anchor="y4", range=[0, 6500], tickmode="array",
                tickvals=X_TICKS, showticklabels=False, minor=xminor("inside")),
    yaxis4=axis("inside", overlaying="y2", anchor="x4", range=[0, 5], tickmode="array",
                tickvals=Y_TICKS_BOT, showticklabels=False, minor=yminor("inside")),
    legend=dict(x=1.0523, xref="paper", y=0.9943, yref="container", xanchor="left", yanchor="top",
                font=dict(family=FONT, size=22.9, color="black"), maxheight=866,
                bgcolor="rgba(0,0,0,0)", borderwidth=0, tracegroupgap=0, itemwidth=60,
                traceorder="normal"),
    shapes=[
        dict(type="rect", xref="paper", yref="paper", x0=0.6919, x1=0.8969, y0=0.7599, y1=0.9136,
             fillcolor="black", line=dict(width=0), layer="above"),
        dict(type="rect", xref="paper", yref="paper", x0=0.7018, x1=0.8882, y0=0.3086, y1=0.4266,
             fillcolor="black", line=dict(width=0), layer="above"),
    ],
    annotations=[
        dict(text="LaBr<sub>3</sub>", xref="paper", yref="paper", x=0.7829, y=0.8485,
             xanchor="center", yanchor="middle", showarrow=False,
             font=dict(family=FONT, size=72, color="black"), bgcolor="white",
             bordercolor="black", borderwidth=1.5, borderpad=0, width=184, height=108),
        dict(text="BGO", xref="paper", yref="paper", x=0.7834, y=0.382,
             xanchor="center", yanchor="middle", showarrow=False,
             font=dict(family=FONT, size=72, color="black"), bgcolor="white",
             bordercolor="black", borderwidth=1.5, borderpad=0, width=167, height=83),
        dict(text="Counts [a.u.]", xref="paper", yref="paper", x=-0.0965, y=0.54,
             xanchor="center", yanchor="middle", showarrow=False, textangle=-90,
             font=dict(family=FONT, size=48, color="black")),
        dict(text="E<sub>γ</sub> [keV]", xref="paper", yref="paper", x=0.514, y=-0.137,
             xanchor="center", yanchor="middle", showarrow=False,
             font=dict(family=FONT, size=40, color="black")),
    ],
)

fig.write_html("out.html")
